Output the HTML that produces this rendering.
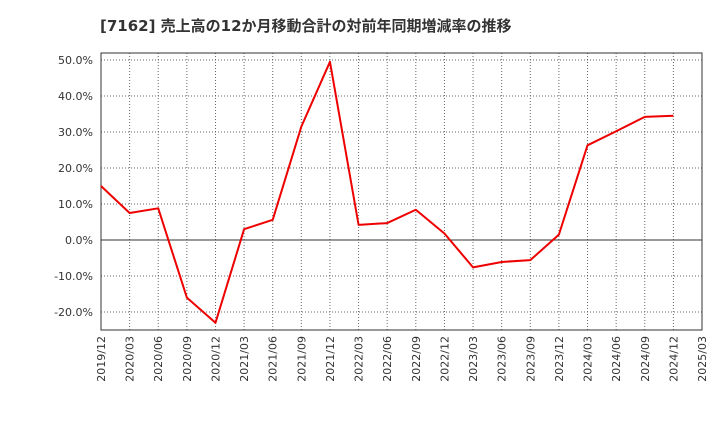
<!DOCTYPE html>
<html><head><meta charset="utf-8"><style>
body{margin:0;background:#fff;}
svg{display:block;font-family:"DejaVu Sans","Noto Sans CJK JP",sans-serif;}
</style></head><body>
<svg id="chart" width="720" height="440">
<text x="100" y="31" font-size="15" font-weight="bold" fill="#333">[7162]  売上高の12か月移動合計の対前年同期増減率の推移</text>
<g id="grid"></g><g id="axes"></g><g id="series"></g>
</svg>
<script>
const categories=["2019/12","2020/03","2020/06","2020/09","2020/12","2021/03","2021/06","2021/09","2021/12","2022/03","2022/06","2022/09","2022/12","2023/03","2023/06","2023/09","2023/12","2024/03","2024/06","2024/09","2024/12","2025/03"];
const values=[15,7.5,8.8,-16,-23,3,5.6,31.5,49.5,4.2,4.7,8.4,1.8,-7.6,-6.1,-5.6,1.5,26.3,30.2,34.2,34.5];
const yTicks=[50,40,30,20,10,0,-10,-20];
const NS="http://www.w3.org/2000/svg";
const L=101,R=702,T=53,B=330;
const x=i=>L+i*(R-L)/(categories.length-1);
const y=v=>240-v*3.6;
function mk(t,a,p){const e=document.createElementNS(NS,t);for(const k in a)e.setAttribute(k,a[k]);p.appendChild(e);return e;}
const grid=document.getElementById('grid'),axes=document.getElementById('axes'),ser=document.getElementById('series');
categories.forEach((c,i)=>{
 const l=mk('line',{x1:x(i),x2:x(i),y1:T,y2:B,stroke:'#666','stroke-dasharray':'1,2','stroke-width':1},grid);
 
 
 const t=mk('text',{x:0,y:0,'font-size':11,fill:'#333','text-anchor':'end',transform:`translate(${x(i)+4},${B+6}) rotate(-90)`},axes);
 t.textContent=c;
 
 
});
yTicks.forEach(v=>{
 const l=mk('line',{x1:L,x2:R,y1:y(v),y2:y(v),stroke:v===0?'#333':'#666','stroke-dasharray':v===0?'none':'1,2','stroke-width':1},grid);
 
 
 const t=mk('text',{x:L-8,y:y(v)+4,'font-size':11,fill:'#333','text-anchor':'end'},axes);
 t.textContent=v.toFixed(1)+'%';
 
 
});
const fr=mk('rect',{x:L,y:T,width:R-L,height:B-T,fill:'none',stroke:'#333'},axes);


const pl=mk('polyline',{points:values.map((v,i)=>x(i)+','+y(v)).join(' '),fill:'none',stroke:'#e00','stroke-width':2,'stroke-linejoin':'round'},ser);


</script>
</body></html>
